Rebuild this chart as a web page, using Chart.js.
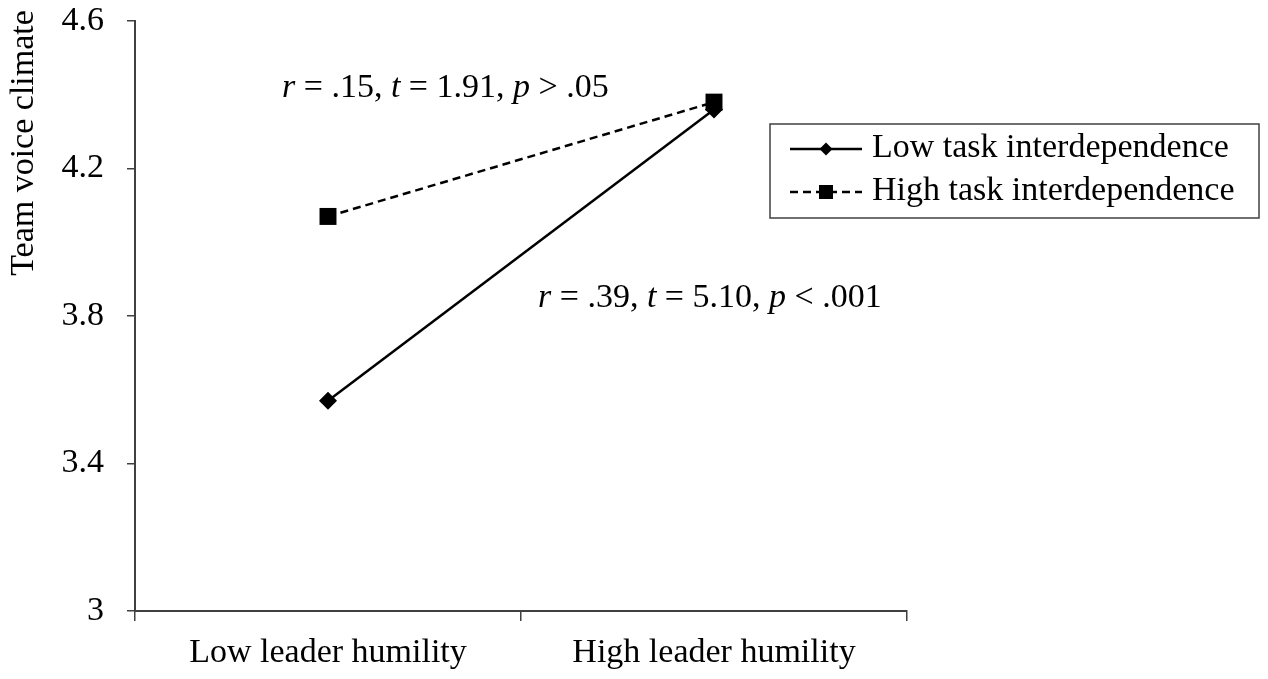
<!DOCTYPE html>
<html>
<head>
<meta charset="utf-8">
<script src="https://cdn.jsdelivr.net/npm/chart.js@4.4.1/dist/chart.umd.min.js"></script>
<style>
  html, body { margin: 0; padding: 0; background: #fff; }
</style>
</head>
<body>
<canvas id="chart" width="1268" height="679"></canvas>
<script>
// data
const categories = ['Low leader humility', 'High leader humility'];
const seriesNames = ['Low task interdependence', 'High task interdependence'];
const lowTask = [3.57, 4.36];
const highTask = [4.07, 4.38];
const yTicks = ['3', '3.4', '3.8', '4.2', '4.6'];
const yTitle = 'Team voice climate';
// slope notes, italic bits flagged with 1
const noteHigh = [['r', 1], [' = .15, ', 0], ['t', 1], [' = 1.91, ', 0], ['p', 1], [' > .05', 0]];
const noteLow = [['r', 1], [' = .39, ', 0], ['t', 1], [' = 5.10, ', 0], ['p', 1], [' < .001', 0]];

const FONT = "'Liberation Serif', 'Times New Roman', serif";
const AXIS = '#404040';

function drawRich(ctx, parts, x, y) {
    parts.forEach(p => {
        ctx.font = (p[1] ? 'italic ' : '') + '34px ' + FONT;
        ctx.fillText(p[0], x, y);
        x += ctx.measureText(p[0]).width;
    });
}

function marker(ctx, style, x, y, r) {
    ctx.beginPath();
    if (style === 'rectRot') {
        ctx.moveTo(x - r, y); ctx.lineTo(x, y - r); ctx.lineTo(x + r, y); ctx.lineTo(x, y + r);
        ctx.closePath();
    } else {
        ctx.rect(x - r, y - r, 2 * r, 2 * r);
    }
    ctx.fill();
}

const extras = {
    id: 'extras',
    afterDraw(chart) {
        const ctx = chart.ctx;
        ctx.save();
        ctx.fillStyle = '#000';
        ctx.textBaseline = 'alphabetic';
        ctx.textAlign = 'left';

        // y title sits at the top of the axis
        ctx.save();
        ctx.translate(33, 143);
        ctx.rotate(-Math.PI / 2);
        ctx.textAlign = 'center';
        ctx.font = '34px ' + FONT;
        ctx.fillText(yTitle, 0, 0);
        ctx.restore();

        drawRich(ctx, noteHigh, 282, 97);
        drawRich(ctx, noteLow, 538, 307);

        // legend box
        ctx.strokeStyle = AXIS;
        ctx.lineWidth = 1.5;
        ctx.strokeRect(770, 124, 489, 94);
        const rows = [149, 192];
        chart.data.datasets.forEach((ds, i) => {
            const y = rows[i];
            ctx.strokeStyle = '#000';
            ctx.lineWidth = 2.5;
            ctx.setLineDash(ds.borderDash || []);
            ctx.beginPath();
            ctx.moveTo(790, y);
            ctx.lineTo(862, y);
            ctx.stroke();
            ctx.setLineDash([]);
            marker(ctx, ds.pointStyle, 826, y, ds.pointStyle === 'rect' ? 7 : 6.5);
            ctx.font = '34px ' + FONT;
            ctx.fillText(ds.label, 872, y + 8);
        });
        ctx.restore();
    }
};

new Chart(document.getElementById('chart'), {
    type: 'line',
    data: {
        labels: categories,
        datasets: [
            {
                label: seriesNames[0],
                data: lowTask,
                borderColor: '#000',
                backgroundColor: '#000',
                borderWidth: 2.5,
                pointStyle: 'rectRot',
                pointRadius: 9,
                pointBorderWidth: 0
            },
            {
                label: seriesNames[1],
                data: highTask,
                borderColor: '#000',
                backgroundColor: '#000',
                borderWidth: 2.5,
                borderDash: [8, 5],
                pointStyle: 'rect',
                pointRadius: 12,
                pointBorderWidth: 0
            }
        ]
    },
    options: {
        responsive: false,
        animation: false,
        layout: { padding: { top: 0, right: 361, left: 0, bottom: 0 } },
        plugins: { legend: { display: false }, tooltip: { enabled: false } },
        scales: {
            x: {
                offset: true,
                afterFit: s => { s.height = 68; s.paddingLeft = 0; s.paddingRight = 0; },
                grid: { offset: true, drawOnChartArea: false, tickLength: 10, color: AXIS, lineWidth: 1.5 },
                border: { color: AXIS, width: 2 },
                ticks: { color: '#000', padding: 12, font: { family: FONT, size: 34 } }
            },
            y: {
                min: 3,
                max: 4.6,
                afterFit: s => { s.width = 135; s.paddingTop = 21; s.paddingBottom = 0; },
                grid: { drawOnChartArea: false, tickLength: 8, color: AXIS, lineWidth: 1.5 },
                border: { color: AXIS, width: 2 },
                ticks: {
                    stepSize: 0.4,
                    color: '#000',
                    padding: 23,
                    font: { family: FONT, size: 34 },
                    callback: (v, i) => yTicks[i]
                }
            }
        }
    },
    plugins: [extras]
});
</script>
</body>
</html>
